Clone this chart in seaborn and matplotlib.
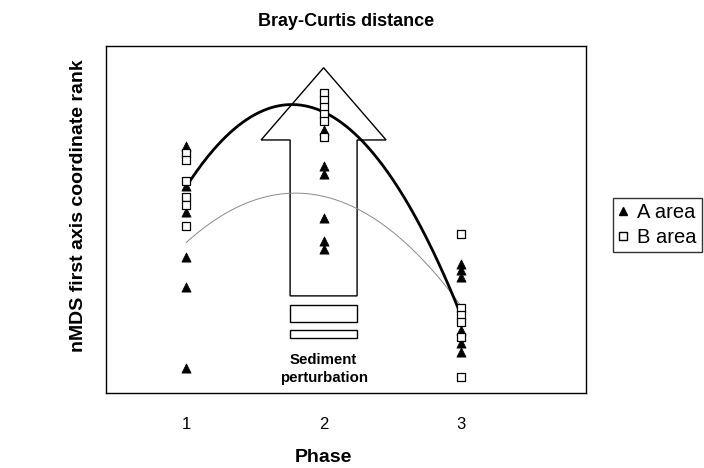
import numpy as np
import pandas as pd
import matplotlib
matplotlib.use("Agg")
import matplotlib.pyplot as plt
import seaborn as sns
from matplotlib.patches import FancyArrow, Rectangle
from matplotlib.lines import Line2D

# phase of each sample and its nMDS first axis score
phase_a = [1, 1, 1, 1, 1, 1, 2, 2, 2, 2, 2, 2, 3, 3, 3, 3, 3, 3]
score_a = [71.2, 59.7, 52.2, 39.2, 30.5, 7.2,
           75.8, 65.4, 63.1, 50.4, 43.8, 41.5,
           37.2, 35.4, 33.4, 18.2, 14.4, 11.8]
phase_b = [1, 1, 1, 1, 1, 1, 2, 2, 2, 2, 2, 2, 3, 3, 3, 3, 3, 3]
score_b = [69.2, 67.1, 61.1, 56.5, 54.2, 48.1,
           86.5, 84.4, 82.3, 80.4, 78.4, 73.8,
           45.8, 24.5, 22.5, 20.5, 16.1, 4.6]
phase_ticks = [1, 2, 3]

df = pd.concat([
    pd.DataFrame({"Phase": phase_a, "Score": score_a, "Area": "A area"}),
    pd.DataFrame({"Phase": phase_b, "Score": score_b, "Area": "B area"}),
])

sns.set_style("white")
plt.rcParams["font.family"] = ["Liberation Sans", "DejaVu Sans"]
plt.rcParams["text.color"] = "black"
plt.rcParams["axes.labelcolor"] = "black"
plt.rcParams["xtick.color"] = "black"

fig = plt.figure(figsize=(7.04, 4.68), dpi=100)
ax = fig.add_axes([0.1506, 0.160, 0.682, 0.742])

# big arrow + bars (sediment perturbation)
ax.add_patch(FancyArrow(2.0, 28.0, 0, 65.7, width=0.487, head_width=0.909,
                        head_length=20.8, length_includes_head=True,
                        fc="white", ec="black", lw=1.0, zorder=1))
ax.add_patch(Rectangle((1.756, 20.5), 0.487, 4.9, fc="white", ec="black", lw=1.0, zorder=1))
ax.add_patch(Rectangle((1.756, 15.9), 0.487, 2.3, fc="white", ec="black", lw=1.0, zorder=1))
ax.text(2.0, 7.0, "Sediment\nperturbation", ha="center", va="center",
        fontsize=10.8, fontweight="bold", linespacing=1.4)

# polynomial (order 2) trendlines
xs = np.linspace(1, 3, 200)
ca = np.polyfit(phase_a, score_a, 2)
cb = np.polyfit(phase_b, score_b, 2)
ax.plot(xs, np.polyval(ca, xs), color="#8a8a8a", lw=0.7, zorder=2)
ax.plot(xs, np.polyval(cb, xs), color="black", lw=2.0, zorder=2)

sns.scatterplot(data=df[df.Area == "A area"], x="Phase", y="Score", marker="^",
                color="black", edgecolor="black", s=44, linewidth=0.5, ax=ax,
                zorder=3, legend=False)
sns.scatterplot(data=df[df.Area == "B area"], x="Phase", y="Score", marker="s",
                color="white", edgecolor="black", s=38, linewidth=0.9, ax=ax,
                zorder=3, legend=False)

ax.set_xlim(0.418, 3.909)
ax.set_ylim(0, 100)
ax.set_xticks(phase_ticks)
ax.set_xticklabels([str(t) for t in phase_ticks], fontsize=12)
ax.tick_params(axis="x", length=0, pad=17)
ax.set_yticks([])
for sp in ax.spines.values():
    sp.set_visible(True)
    sp.set_color("black")
    sp.set_linewidth(1.0)

ax.set_xlabel("Phase", fontsize=14, fontweight="bold")
# x label sits under phase 2, like the reference
ax.xaxis.set_label_coords((2 - 0.418) / (3.909 - 0.418), -0.16)
ax.set_ylabel("nMDS first axis coordinate rank", fontsize=14, fontweight="bold")
ax.yaxis.set_label_coords(-0.04, 0.539)
ax.set_title("Bray-Curtis distance", fontsize=13, fontweight="bold", pad=14)

handles = [Line2D([], [], marker="^", color="black", ls="none", markersize=5.5),
           Line2D([], [], marker="s", mfc="white", mec="black", ls="none", markersize=5.5)]
leg = fig.legend(handles, ["A area", "B area"], loc="upper left",
                 bbox_to_anchor=(0.871, 0.577), fontsize=14.5, frameon=True,
                 fancybox=False, handlelength=0.5, handletextpad=0.45,
                 borderpad=0.25, labelspacing=0.3, borderaxespad=0)
leg.get_frame().set_edgecolor("black")
leg.get_frame().set_linewidth(1.0)

fig.savefig("out.png", dpi=100)
